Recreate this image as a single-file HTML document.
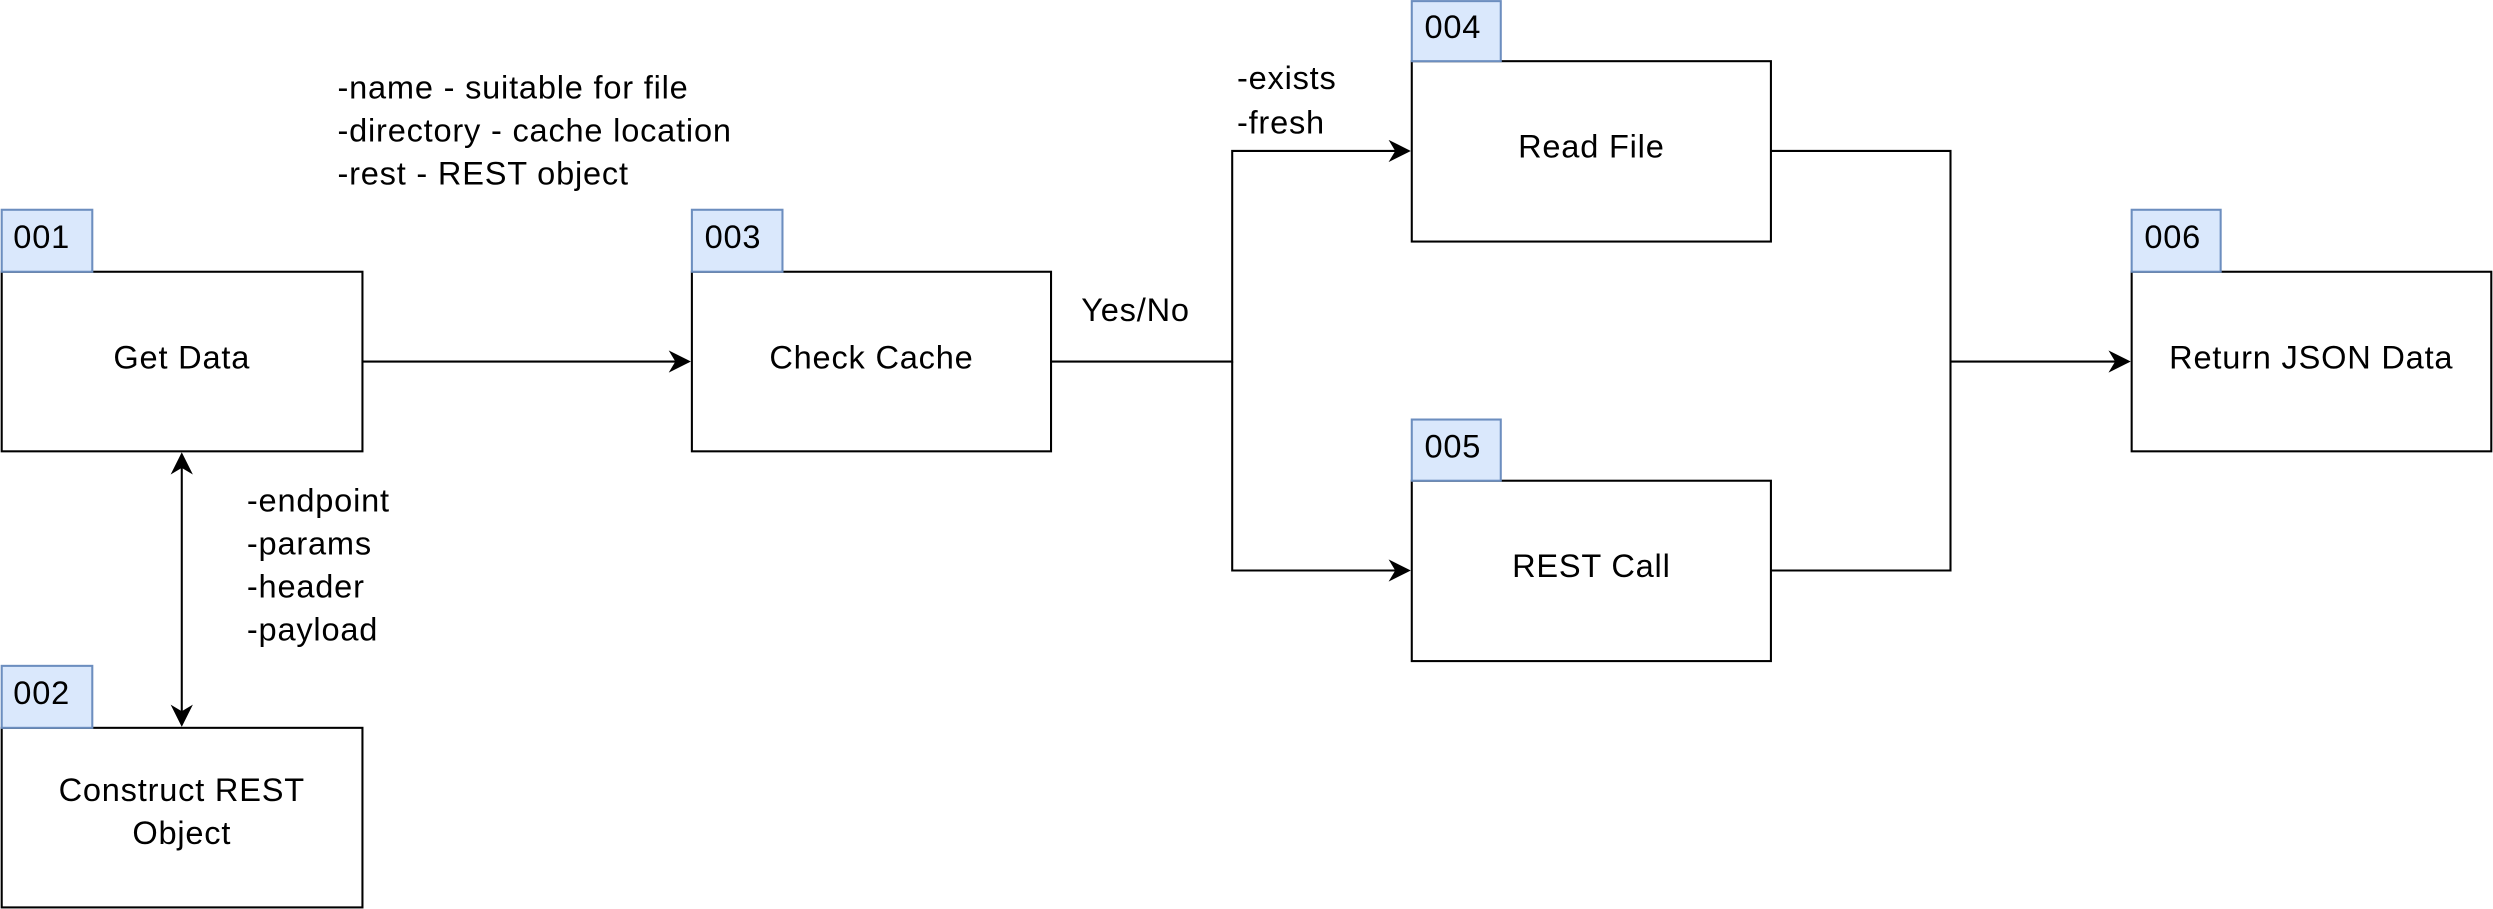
<!DOCTYPE html>
<html><head><meta charset="utf-8"><style>html,body{margin:0;padding:0;background:#fff;}svg{display:block}</style></head>
<body>
<svg width="2493" height="909" viewBox="0 0 1568 572" xmlns="http://www.w3.org/2000/svg" font-family="Liberation Sans, Arial, sans-serif" font-size="20.5" letter-spacing="0.5">
<defs>
<marker id="a" viewBox="0 0 10 10" refX="9" refY="5" markerWidth="14" markerHeight="14" markerUnits="userSpaceOnUse" orient="auto-start-reverse">
<path d="M0,0 L10,5 L0,10 L3,5 Z" fill="#000"/></marker>
</defs>
<g fill="#fff" stroke="#000" stroke-width="1.3">
<rect x="0.7" y="171" width="227" height="113"/>
<rect x="0.7" y="458" width="227" height="113"/>
<rect x="435" y="171" width="226" height="113"/>
<rect x="888" y="38.5" width="226" height="113.5"/>
<rect x="888" y="302.5" width="226" height="113.5"/>
<rect x="1341" y="171" width="226.3" height="113"/>
</g>
<g fill="#dae8fc" stroke="#6c8ebf" stroke-width="1.3">
<rect x="0.7" y="132" width="57" height="39"/>
<rect x="0.7" y="419" width="57" height="39"/>
<rect x="435" y="132" width="57" height="39"/>
<rect x="888" y="0.7" width="56" height="37.8"/>
<rect x="888" y="264" width="56" height="38.5"/>
<rect x="1341" y="132" width="56" height="39"/>
</g>
<g fill="none" stroke="#000" stroke-width="1.3">
<path d="M228,227.5 H433" marker-end="url(#a)"/>
<path d="M114,286 V456" marker-start="url(#a)" marker-end="url(#a)"/>
<path d="M661,227.5 H775 V95 H886" marker-end="url(#a)"/>
<path d="M775,227.5 V359 H886" marker-end="url(#a)"/>
<path d="M1114,95 H1227 V359 H1114"/>
<path d="M1227,227.5 H1339" marker-end="url(#a)"/>
</g>
<g fill="#000">
<text x="8" y="156">001</text>
<text x="8" y="443">002</text>
<text x="443" y="156">003</text>
<text x="896" y="24">004</text>
<text x="896" y="288">005</text>
<text x="1349" y="156">006</text>
<g text-anchor="middle">
<text x="114" y="232">Get Data</text>
<text x="114" y="504">Construct REST</text>
<text x="114" y="531">Object</text>
<text x="548" y="232">Check Cache</text>
<text x="1001" y="99">Read File</text>
<text x="1001" y="363">REST Call</text>
<text x="1454" y="232">Return JSON Data</text>
</g>
<text x="212" y="62">-name - suitable for file</text>
<text x="212" y="89">-directory - cache location</text>
<text x="212" y="116">-rest - REST object</text>
<text x="155" y="322">-endpoint</text>
<text x="155" y="349">-params</text>
<text x="155" y="376">-header</text>
<text x="155" y="403">-payload</text>
<text x="680" y="202">Yes/No</text>
<text x="778" y="56">-exists</text>
<text x="778" y="84">-fresh</text>
</g>
</svg>
</body></html>
